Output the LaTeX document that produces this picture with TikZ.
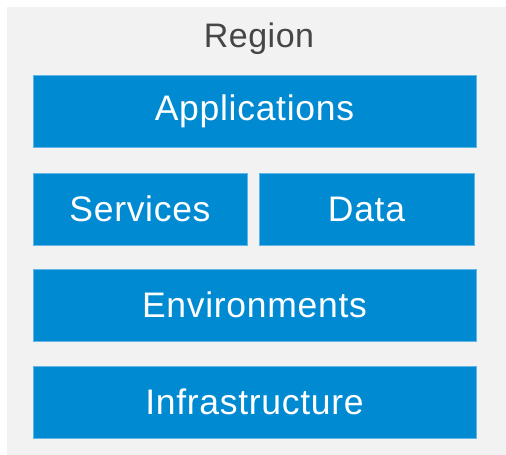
\documentclass[tikz,border=0pt]{standalone}
\usepackage{fontspec}
\setmainfont{Liberation Sans}
\newfontfamily\spacedsans[LetterSpace=2]{Liberation Sans}
\newfontfamily\regionsans[LetterSpace=1.5]{Liberation Sans}
\definecolor{sapblue}{RGB}{0,138,210}
\definecolor{sapedge}{RGB}{96,182,230}
\definecolor{bggray}{RGB}{242,242,242}
\definecolor{txtgray}{RGB}{70,70,70}
\tikzset{
  layerbox/.style={fill=sapblue, draw=sapedge, line width=0.8pt, text=white, font=\spacedsans\fontsize{35.5}{40}\selectfont},
}
\begin{document}
\begin{tikzpicture}[x=1pt,y=-1pt]
\useasboundingbox (0,0) rectangle (506,455);
\fill[white] (0,0) rectangle (506,455);
\fill[bggray] (7,7) rectangle (506,455);
\node[text=txtgray, font=\regionsans\fontsize{34}{40}\selectfont, anchor=base] (region) at (259,47) {Region};
\draw[layerbox] (33,75) rectangle (476,147) node[midway] (apps) {Applications};
\draw[layerbox] (33,173) rectangle (247,245) node[midway] (services) {Services};
\draw[layerbox] (259,173) rectangle (474,245) node[midway] (data) {Data};
\draw[layerbox] (33,269) rectangle (476,341) node[midway] (env) {Environments};
\draw[layerbox] (33,366) rectangle (476,438) node[midway] (infra) {Infrastructure};
\end{tikzpicture}
\end{document}
